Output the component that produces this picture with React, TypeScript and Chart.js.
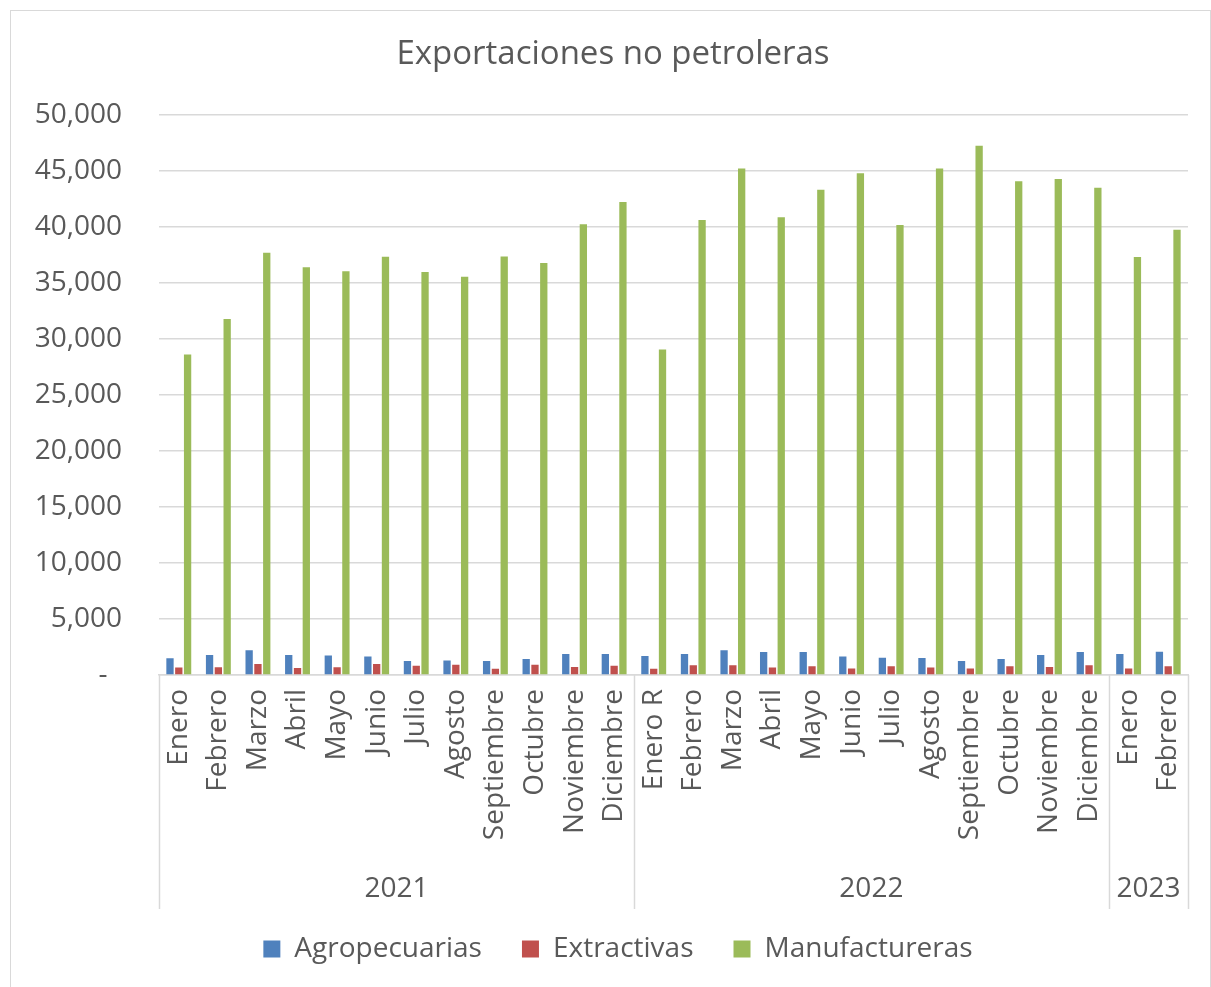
import React, { useEffect, useRef } from "react";
import { Chart, registerables } from "chart.js";

Chart.register(...registerables);

const categories: string[] = [
  "Enero", "Febrero", "Marzo", "Abril", "Mayo", "Junio", "Julio", "Agosto", "Septiembre", "Octubre", "Noviembre", "Diciembre",
  "Enero R", "Febrero", "Marzo", "Abril", "Mayo", "Junio", "Julio", "Agosto", "Septiembre", "Octubre", "Noviembre", "Diciembre",
  "Enero", "Febrero",
];

const years: string[] = ["2021", "2022", "2023"];
const yearCounts: number[] = [12, 12, 2];

const agropecuarias: number[] = [
  1500, 1780, 2200, 1780, 1750, 1660, 1250, 1300, 1250, 1430, 1870, 1870,
  1690, 1870, 2200, 2050, 2050, 1660, 1550, 1520, 1250, 1430, 1780, 2050,
  1870, 2080,
];

const extractivas: number[] = [
  680, 700, 980, 620, 700, 980, 830, 920, 560, 920, 710, 830,
  560, 860, 860, 680, 770, 590, 770, 680, 590, 770, 710, 860,
  590, 770,
];

const manufactureras: number[] = [
  28600, 31760, 37680, 36380, 36020, 37320, 35960, 35540, 37350, 36760, 40210, 42200,
  29050, 40600, 45180, 40840, 43300, 44770, 40150, 45180, 47230, 44050, 44260, 43480,
  37300, 39730,
];

const yTicks: number[] = [0, 5000, 10000, 15000, 20000, 25000, 30000, 35000, 40000, 45000, 50000];

const FONT = "'Open Sans', 'Noto Sans', sans-serif";
const TEXT = "#595959";
const GRID = "#d9d9d9";
const GROUP_DEPTH = 234;

const yearGroupsPlugin = {
  id: "yearGroups",
  afterLayout(chart: any) {
    const t = chart.titleBlock;
    if (t) {
      t.left += 14;
      t.right += 14;
    }
    const l = chart.legend;
    if (l) {
      l.left += 19;
      l.right += 19;
    }
  },
  afterDraw(chart: any) {
    const x = chart.scales.x;
    const ctx = chart.ctx;
    const top = x.top;
    const bottom = top + GROUP_DEPTH;
    const n = categories.length;
    const edge = (i: number) => {
      if (i <= 0) return x.left;
      if (i >= n) return x.right;
      return (x.getPixelForValue(i - 1) + x.getPixelForValue(i)) / 2;
    };
    ctx.save();
    ctx.strokeStyle = GRID;
    ctx.lineWidth = 1.5;
    let start = 0;
    const bounds: number[] = [0];
    yearCounts.forEach((c) => {
      start += c;
      bounds.push(start);
    });
    bounds.forEach((b) => {
      const px = Math.round(edge(b)) + 0.5;
      ctx.beginPath();
      ctx.moveTo(px, top);
      ctx.lineTo(px, bottom);
      ctx.stroke();
    });
    ctx.fillStyle = TEXT;
    ctx.font = `28px ${FONT}`;
    ctx.textAlign = "center";
    ctx.textBaseline = "middle";
    years.forEach((yr, k) => {
      const cx = (edge(bounds[k]) + edge(bounds[k + 1])) / 2;
      ctx.fillText(yr, cx, top + 214);
    });
    ctx.restore();
  },
};

export default function App() {
  const canvasRef = useRef<HTMLCanvasElement | null>(null);

  useEffect(() => {
    if (!canvasRef.current) return;
    const chart = new Chart(canvasRef.current, {
      type: "bar",
      data: {
        labels: categories,
        datasets: [
          { label: "Agropecuarias", data: agropecuarias, backgroundColor: "#4f81bd" },
          { label: "Extractivas", data: extractivas, backgroundColor: "#c0504d" },
          { label: "Manufactureras", data: manufactureras, backgroundColor: "#9bbb59" },
        ],
      },
      options: {
        animation: false,
        responsive: true,
        maintainAspectRatio: false,
        datasets: {
          bar: { categoryPercentage: 0.667, barPercentage: 0.83 },
        },
        layout: { padding: { left: 10, right: 23, top: 0, bottom: 14 } },
        plugins: {
          title: {
            display: true,
            text: "Exportaciones no petroleras",
            color: TEXT,
            font: { family: FONT, size: 33, weight: "normal" },
            padding: { top: 35, bottom: 40 },
          },
          legend: {
            position: "bottom",
            labels: {
              color: TEXT,
              font: { family: FONT, size: 28 },
              boxWidth: 17,
              boxHeight: 17,
              padding: 40,
            },
          },
          tooltip: { enabled: false },
        },
        scales: {
          x: {
            grid: { display: false, drawTicks: false },
            border: { display: true, color: GRID, width: 1.5 },
            ticks: {
              color: TEXT,
              font: { family: FONT, size: 28 },
              minRotation: 90,
              maxRotation: 90,
              autoSkip: false,
              padding: 14,
            },
            afterFit: (s: any) => {
              s.height = 220;
              s.paddingLeft = 0;
              s.paddingRight = 0;
            },
          },
          y: {
            min: 0,
            max: 50000,
            afterBuildTicks: (s: any) => {
              s.ticks = yTicks.map((v) => ({ value: v }));
            },
            grid: { color: GRID, lineWidth: 1.5, drawTicks: false },
            border: { display: false },
            ticks: {
              color: TEXT,
              font: { family: FONT, size: 28 },
              padding: 37,
              callback: (v: any) => (Number(v) === 0 ? "-  " : Number(v).toLocaleString("en-US")),
            },
            afterFit: (s: any) => {
              s.width = 149;
            },
          },
        },
      },
      plugins: [yearGroupsPlugin],
    });
    return () => chart.destroy();
  }, []);

  return (
    <div style={{ position: "absolute", left: 0, top: 0, width: 1211, height: 987, overflow: "hidden", background: "#fff" }}>
      <div
        style={{
          position: "absolute",
          left: 10,
          top: 10,
          width: 1199,
          height: 976,
          borderTop: `1px solid ${GRID}`,
          borderLeft: `1px solid ${GRID}`,
          borderRight: `1px solid ${GRID}`,
        }}
      />
      <div style={{ position: "absolute", left: 0, top: 0, width: 1211, height: 987 }}>
        <canvas ref={canvasRef} />
      </div>
    </div>
  );
}
